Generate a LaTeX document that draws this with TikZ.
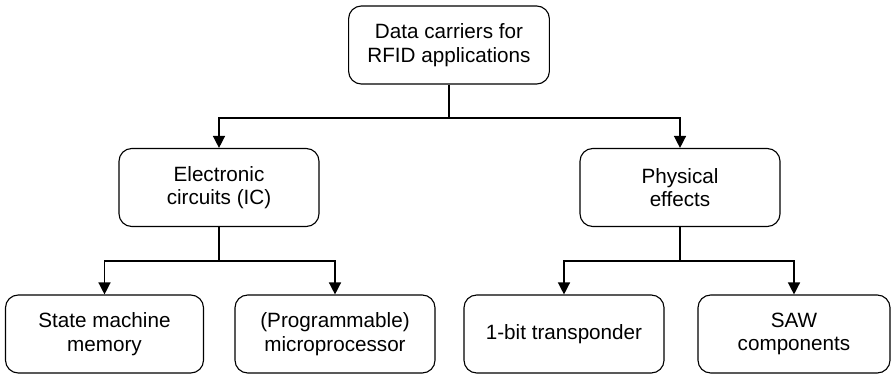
\documentclass[tikz,border=0pt]{standalone}
\usepackage{fontspec}
\setmainfont{Liberation Sans}
\usetikzlibrary{arrows.meta}
\begin{document}
\begin{tikzpicture}[x=0.025cm,y=-0.025cm,
  box/.style={draw,thick,rounded corners=0.32cm,minimum width=5cm,minimum height=1.95cm,align=center,inner sep=2pt,font=\fontsize{14.7}{16.6}\selectfont},
  arr/.style={line width=1pt,-{Triangle[length=0.3cm,width=0.3cm]}}]
\useasboundingbox (0,0) rectangle (892,375);
\node[box,minimum width=5.02cm] (top) at (449,45) {Data carriers for\\RFID applications};
\node[box] (elec) at (219,187.5) {Electronic\\circuits (IC)};
\node[box] (phys) at (680,187.5) {Physical\\effects};
\node[box,minimum width=4.95cm] (sm) at (104.5,334) {State machine\\memory};
\node[box] (mp) at (335,334) {(Programmable)\\microprocessor};
\node[box] (onebit) at (564,334) {1-bit transponder};
\node[box,minimum width=4.8cm] (saw) at (794,334) {SAW\\components};
% branch points
\coordinate (s0) at (449,118);
\coordinate (s1) at (219,261);
\coordinate (s2) at (680,261);
\draw[line width=1pt] (top.south) -- (s0);
\draw[arr] (s0) -| (elec.north);
\draw[arr] (s0) -| (phys.north);
\draw[line width=1pt] (elec.south) -- (s1);
\draw[arr] (s1) -| (sm.north);
\draw[arr] (s1) -| (mp.north);
\draw[line width=1pt] (phys.south) -- (s2);
\draw[arr] (s2) -| (onebit.north);
\draw[arr] (s2) -| (saw.north);
\end{tikzpicture}
\end{document}
